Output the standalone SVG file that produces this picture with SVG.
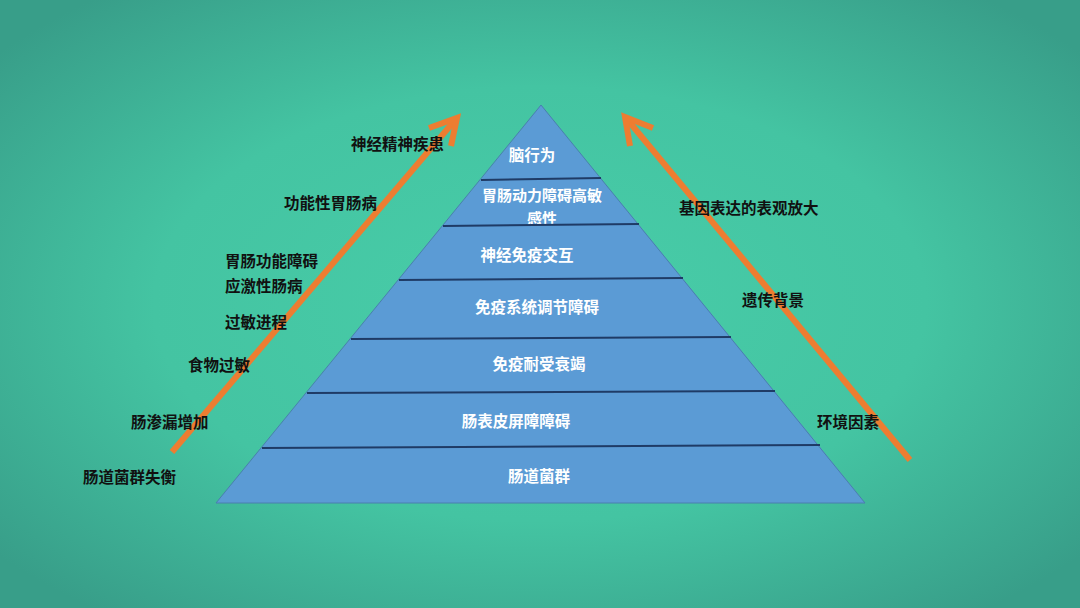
<svg xmlns="http://www.w3.org/2000/svg" width="1080" height="608" viewBox="0 0 1080 608">
<defs>
<radialGradient id="bg" cx="50%" cy="50%" r="65%">
<stop offset="0" stop-color="#48cda8"/>
<stop offset="0.55" stop-color="#44c4a2"/>
<stop offset="1" stop-color="#389e89"/>
</radialGradient>
<style>
.layer{fill:#5b9bd5;stroke:none}
.sep{stroke:#1f3b66;stroke-width:2;fill:none}
.edge{fill:none;stroke:#4a7fae;stroke-width:1}
.in{font-family:"Noto Sans CJK SC","Noto Sans CJK TC",sans-serif;font-weight:bold;font-size:15.5px;fill:#ffffff;text-anchor:middle;dominant-baseline:central}
.out{font-family:"Noto Sans CJK SC","Noto Sans CJK TC",sans-serif;font-weight:bold;font-size:15.5px;fill:#111111;dominant-baseline:central}
.arr{stroke:#ed7d31;stroke-width:6;fill:none;stroke-linecap:butt;stroke-linejoin:miter}
</style>
</defs>
<rect width="1080" height="608" fill="url(#bg)"/>

<g id="pyramid">
<g id="layer1"><polygon class="layer" points="541,105 601,179 481,179"/><text class="in" x="532" y="154">脑行为</text></g>
<g id="layer2"><polygon class="layer" points="481,179 601,179 639,225 443,225"/><text class="in" x="542" y="194" style="font-size:15px">胃肠动力障碍高敏</text><text class="in" x="542" y="217" style="font-size:15px">感性</text></g>
<g id="layer3"><polygon class="layer" points="443,225 639,225 683,279 399,279"/><text class="in" x="527" y="254">神经免疫交互</text></g>
<g id="layer4"><polygon class="layer" points="399,279 683,279 731,338 351,338"/><text class="in" x="537" y="306">免疫系统调节障碍</text></g>
<g id="layer5"><polygon class="layer" points="351,338 731,338 775,392 307,392"/><text class="in" x="539" y="363">免疫耐受衰竭</text></g>
<g id="layer6"><polygon class="layer" points="307,392 775,392 820,447 262,447"/><text class="in" x="516" y="420">肠表皮屏障障碍</text></g>
<g id="layer7"><polygon class="layer" points="262,447 820,447 865,503 216,503"/><text class="in" x="539" y="475">肠道菌群</text></g>
<polygon class="edge" points="541,105 865,503 216,503"/>
<line class="sep" x1="481" y1="180" x2="601" y2="178"/>
<line class="sep" x1="443" y1="226" x2="639" y2="224"/>
<line class="sep" x1="399" y1="280" x2="683" y2="278"/>
<line class="sep" x1="351" y1="339" x2="731" y2="337"/>
<line class="sep" x1="307" y1="393" x2="775" y2="391"/>
<line class="sep" x1="262" y1="448" x2="820" y2="445"/>
</g>

<g id="connectors">
<path class="arr" d="M172,452 L456,119"/>
<path class="arr" d="M429,128 L457,118 L451,146"/>
<path class="arr" d="M910,460 L626,118"/>
<path class="arr" d="M653,128 L625,117 L630,146"/>
</g>

<g id="left-labels">
<text class="out" x="351" y="143">神经精神疾患</text>
<text class="out" x="284" y="202">功能性胃肠病</text>
<text class="out" x="225" y="260">胃肠功能障碍</text>
<text class="out" x="225" y="285">应激性肠病</text>
<text class="out" x="225" y="321">过敏进程</text>
<text class="out" x="188" y="364">食物过敏</text>
<text class="out" x="131" y="421">肠渗漏增加</text>
<text class="out" x="83" y="476">肠道菌群失衡</text>
</g>
<g id="right-labels">
<text class="out" x="679" y="207">基因表达的表观放大</text>
<text class="out" x="742" y="299">遗传背景</text>
<text class="out" x="817" y="421">环境因素</text>
</g>
</svg>
